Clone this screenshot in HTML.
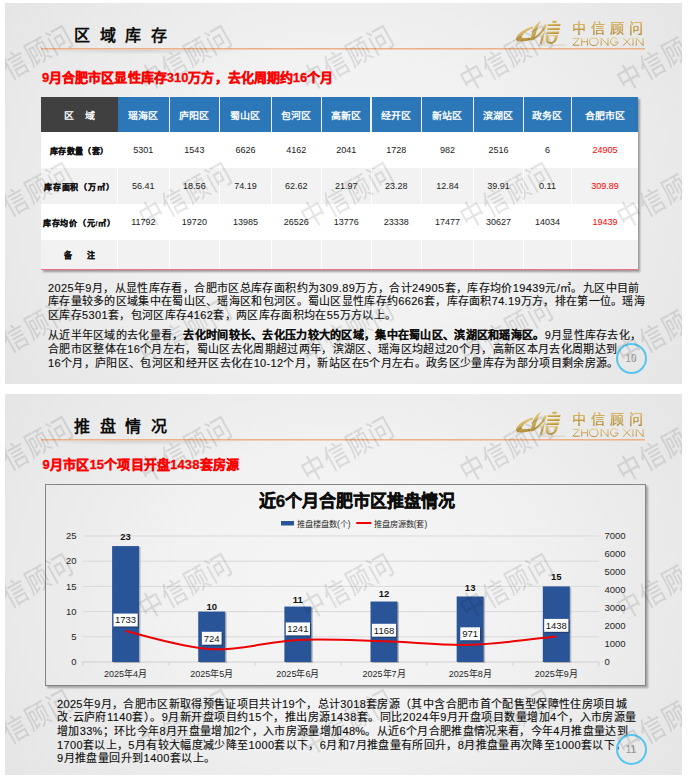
<!DOCTYPE html>
<html lang="zh-CN"><head><meta charset="utf-8"><style>
*{margin:0;padding:0;box-sizing:border-box}
html,body{width:689px;height:779px;background:#fff;overflow:hidden}
body{position:relative;font-family:"Liberation Sans",sans-serif;color:#000}
.slide{position:absolute;left:5px;width:677px;height:381px;overflow:hidden;
 background:radial-gradient(ellipse 338px 269px at 50% 50%, #f5f5f5 0%, #f2f2f2 50%, #eeeeee 71%, #e9e9e9 100%, #e5e5e5 123%)}
.a{position:absolute;white-space:nowrap}
.title{font-size:16px;font-weight:bold;letter-spacing:9.5px;line-height:16px;color:#0d0d0d}
.hline{position:absolute;left:36px;top:45px;width:604px;height:2px;background:linear-gradient(to bottom,rgba(236,172,132,0.95) 0 50%,rgba(236,172,132,0.5) 50% 100%)}
.hshadow{position:absolute;left:36px;top:46.5px;width:220px;height:6px;background:radial-gradient(ellipse 110px 4.5px at 100px 0px, rgba(0,0,0,0.11), rgba(0,0,0,0) 100%)}
.sub{font-size:13px;font-weight:bold;color:#ff0000;line-height:13px;-webkit-text-stroke:0.3px #ff0000}
.wm{position:absolute;white-space:nowrap;font-size:24px;line-height:28px;letter-spacing:1.3px;color:#000;-webkit-text-stroke:0.15px #000;opacity:0.1;transform:translate(-50%,-50%) rotate(-29deg) scaleY(1.2)}
.cell{position:absolute;display:flex;align-items:center;justify-content:center;white-space:nowrap}
.hd{background:#2b77b7;color:#fff;font-weight:bold;font-size:10px}
.body1{font-size:9px}
.para{font-size:11px;line-height:12px;color:#0d0d0d;-webkit-text-stroke:0.12px #0d0d0d}
.goldtxt{background:linear-gradient(to bottom,#e2c77e 0%,#c9a24a 50%,#a07a2c 100%);-webkit-background-clip:text;background-clip:text;color:transparent}
.pn{position:absolute;width:31px;height:31px;border-radius:50%;border:2px solid #55c6ef;display:flex;align-items:center;justify-content:center;font-size:10px;color:#969696;padding-top:1px}
</style></head>
<body>
<div class="slide" style="top:3px">

<div class="a title" style="left:69px;top:25px">区域库存</div>
<div class="hshadow"></div>
<div class="hline"></div>
<svg class="a" style="left:503px;top:11px" width="64" height="36" viewBox="508 14 64 36">
 <defs><linearGradient id="golda" x1="0" y1="0" x2="0.3" y2="1"><stop offset="0" stop-color="#f0dea4"/><stop offset="0.5" stop-color="#d5b462"/><stop offset="1" stop-color="#b6913d"/></linearGradient></defs>
 <g fill="url(#golda)">
 <path d="M533 26.3 C526 28 519 32.5 516.3 37.3 C515.2 40 517.5 41.8 521.5 41.6 C525 41.4 528.5 40.6 531.8 39.8 L531.3 37.4 C528 37.9 525 38.2 523.3 38.1 C521.6 38 521.4 37 522.1 36 C524.3 32.8 528 30 533 28.6 Z"/>
 <path d="M540.9 20.8 C536.5 23 533.5 28 532 33 L530.4 40.3 C532.3 40.6 534 40 534.8 38.8 C535.8 33 537.5 27 540.9 20.8 Z"/>
 <path d="M546.5 24.2 C546.8 28.5 542 34 534.2 39.2 L533.6 38 C539 34 543 29 544.2 24.8 C544.8 24.2 545.8 24 546.5 24.2 Z"/>
 <path d="M542.6 33.2 L545 32.6 L541.8 43.6 L539.6 43.8 Z"/>
 <ellipse cx="554.4" cy="21.6" rx="2.5" ry="1.2"/>
 <path d="M548 23.7 L561 23.7 L560 26 L547.5 26 Z"/>
 <path d="M547.5 27.6 L560 27.6 L559.5 29.9 L547 29.9 Z"/>
 <path d="M547 31.3 L559.5 31.3 L558.5 34 L546.5 34 Z"/>
 <path fill-rule="evenodd" d="M545.5 35 L558 35 C557.5 39 556 43.5 551 43.8 C547 44 545.5 42 545.5 39 Z M548.2 36.3 L554.8 36.3 C554.5 39.5 553.5 42 551 42.2 C549 42.3 548.2 41 548.2 39 Z"/>
 </g>
 <rect x="538.5" y="44.6" width="27" height="1" fill="#b8a070" opacity="0.35"/>
</svg>
<div class="a goldtxt" style="left:567px;top:16.5px;font-size:14px;line-height:16px;letter-spacing:5.1px;-webkit-text-stroke:0.2px #c9a24a">中信顾问</div>
<svg class="a" style="left:563px;top:32px" width="84" height="16" viewBox="568 35 84 16">
 <defs><linearGradient id="gold2a" gradientUnits="userSpaceOnUse" x1="0" y1="37.5" x2="0" y2="46"><stop offset="0" stop-color="#e0c47c"/><stop offset="0.55" stop-color="#c9a350"/><stop offset="1" stop-color="#a98432"/></linearGradient></defs>
 <g fill="none" stroke="url(#gold2a)" stroke-width="0.95" stroke-linejoin="miter">
 <path d="M572.8 38.3 H579.2 L572.9 45.2 H579.5"/>
 <path d="M581.7 37.9 V45.6 M587.5 37.9 V45.6 M581.7 41.7 H587.5"/>
 <ellipse cx="593.8" cy="41.75" rx="4.3" ry="3.8"/>
 <path d="M601.2 45.6 V37.9 L608 45.6 V37.9"/>
 <path d="M617.6 39.3 A3.9 3.85 0 1 0 618.2 42 H614.8"/>
 <path d="M623.1 37.9 L630.8 45.6 M630.8 37.9 L623.1 45.6"/>
 <path d="M633 37.9 V45.6"/>
 <path d="M636.3 45.6 V37.9 L643.1 45.6 V37.9"/>
 </g>
</svg>

<div class="a sub" style="left:37px;top:68px;letter-spacing:0.04px">9月合肥市区显性库存310万方，去化周期约16个月</div>
<div class="a" style="left:36px;top:94px;width:597px;height:173px;box-shadow:2px 2px 2px rgba(0,0,0,0.35)"></div>
<div class="cell" style="left:36px;top:94px;width:76.5px;height:35px;background:#404040;color:#fff;font-weight:bold;font-size:10px"><span style="display:inline-block;transform:translateY(0.5px) scaleY(0.87)">区&nbsp;&nbsp;&nbsp;&nbsp;域</span></div>
<div class="cell hd" style="left:113.0px;top:94px;width:50.69999999999999px;height:35px"><span style="display:inline-block;transform:translateY(0.5px) scaleY(0.87)">瑶海区</span></div>
<div class="cell hd" style="left:164.7px;top:94px;width:49.400000000000006px;height:35px"><span style="display:inline-block;transform:translateY(0.5px) scaleY(0.87)">庐阳区</span></div>
<div class="cell hd" style="left:215.1px;top:94px;width:50.70000000000002px;height:35px"><span style="display:inline-block;transform:translateY(0.5px) scaleY(0.87)">蜀山区</span></div>
<div class="cell hd" style="left:266.8px;top:94px;width:49.0px;height:35px"><span style="display:inline-block;transform:translateY(0.5px) scaleY(0.87)">包河区</span></div>
<div class="cell hd" style="left:316.8px;top:94px;width:48.69999999999999px;height:35px"><span style="display:inline-block;transform:translateY(0.5px) scaleY(0.87)">高新区</span></div>
<div class="cell hd" style="left:366.5px;top:94px;width:49.30000000000001px;height:35px"><span style="display:inline-block;transform:translateY(0.5px) scaleY(0.87)">经开区</span></div>
<div class="cell hd" style="left:416.8px;top:94px;width:51.30000000000001px;height:35px"><span style="display:inline-block;transform:translateY(0.5px) scaleY(0.87)">新站区</span></div>
<div class="cell hd" style="left:469.1px;top:94px;width:48.60000000000002px;height:35px"><span style="display:inline-block;transform:translateY(0.5px) scaleY(0.87)">滨湖区</span></div>
<div class="cell hd" style="left:518.7px;top:94px;width:47.59999999999991px;height:35px"><span style="display:inline-block;transform:translateY(0.5px) scaleY(0.87)">政务区</span></div>
<div class="cell hd" style="left:567.3px;top:94px;width:65.70000000000005px;height:35px"><span style="display:inline-block;transform:translateY(0.5px) scaleY(0.87)">合肥市区</span></div>
<div class="a" style="left:36px;top:129px;width:597px;height:36px;background:#ffffff"></div>
<div class="cell" style="left:36px;top:129px;width:76.5px;height:36px;font-size:8px;font-weight:bold;color:#111;-webkit-text-stroke:0.2px #111;letter-spacing:0.4px">库存数量（套）</div>
<div class="cell" style="left:112.5px;top:129px;width:51.69999999999999px;height:36px;font-size:9px;color:#1a1a1a">5301</div>
<div class="cell" style="left:164.2px;top:129px;width:50.400000000000006px;height:36px;font-size:9px;color:#1a1a1a">1543</div>
<div class="cell" style="left:214.6px;top:129px;width:51.70000000000002px;height:36px;font-size:9px;color:#1a1a1a">6626</div>
<div class="cell" style="left:266.3px;top:129px;width:50.0px;height:36px;font-size:9px;color:#1a1a1a">4162</div>
<div class="cell" style="left:316.3px;top:129px;width:49.69999999999999px;height:36px;font-size:9px;color:#1a1a1a">2041</div>
<div class="cell" style="left:366px;top:129px;width:50.30000000000001px;height:36px;font-size:9px;color:#1a1a1a">1728</div>
<div class="cell" style="left:416.3px;top:129px;width:52.30000000000001px;height:36px;font-size:9px;color:#1a1a1a">982</div>
<div class="cell" style="left:468.6px;top:129px;width:49.60000000000002px;height:36px;font-size:9px;color:#1a1a1a">2516</div>
<div class="cell" style="left:518.2px;top:129px;width:48.59999999999991px;height:36px;font-size:9px;color:#1a1a1a">6</div>
<div class="cell" style="left:566.8px;top:129px;width:66.20000000000005px;height:36px;font-size:9px;color:#ff0000">24905</div>
<div class="a" style="left:36px;top:165px;width:597px;height:36px;background:#f2f2f2"></div>
<div class="cell" style="left:36px;top:165px;width:76.5px;height:36px;font-size:8px;font-weight:bold;color:#111;-webkit-text-stroke:0.2px #111;letter-spacing:0.8px">库存面积（万㎡）</div>
<div class="cell" style="left:112.5px;top:165px;width:51.69999999999999px;height:36px;font-size:9px;color:#1a1a1a">56.41</div>
<div class="cell" style="left:164.2px;top:165px;width:50.400000000000006px;height:36px;font-size:9px;color:#1a1a1a">18.56</div>
<div class="cell" style="left:214.6px;top:165px;width:51.70000000000002px;height:36px;font-size:9px;color:#1a1a1a">74.19</div>
<div class="cell" style="left:266.3px;top:165px;width:50.0px;height:36px;font-size:9px;color:#1a1a1a">62.62</div>
<div class="cell" style="left:316.3px;top:165px;width:49.69999999999999px;height:36px;font-size:9px;color:#1a1a1a">21.97</div>
<div class="cell" style="left:366px;top:165px;width:50.30000000000001px;height:36px;font-size:9px;color:#1a1a1a">23.28</div>
<div class="cell" style="left:416.3px;top:165px;width:52.30000000000001px;height:36px;font-size:9px;color:#1a1a1a">12.84</div>
<div class="cell" style="left:468.6px;top:165px;width:49.60000000000002px;height:36px;font-size:9px;color:#1a1a1a">39.91</div>
<div class="cell" style="left:518.2px;top:165px;width:48.59999999999991px;height:36px;font-size:9px;color:#1a1a1a">0.11</div>
<div class="cell" style="left:566.8px;top:165px;width:66.20000000000005px;height:36px;font-size:9px;color:#ff0000">309.89</div>
<div class="a" style="left:36px;top:201px;width:597px;height:36px;background:#ffffff"></div>
<div class="cell" style="left:36px;top:201px;width:76.5px;height:36px;font-size:8px;font-weight:bold;color:#111;-webkit-text-stroke:0.2px #111;letter-spacing:0.75px">库存均价（元/㎡）</div>
<div class="cell" style="left:112.5px;top:201px;width:51.69999999999999px;height:36px;font-size:9px;color:#1a1a1a">11792</div>
<div class="cell" style="left:164.2px;top:201px;width:50.400000000000006px;height:36px;font-size:9px;color:#1a1a1a">19720</div>
<div class="cell" style="left:214.6px;top:201px;width:51.70000000000002px;height:36px;font-size:9px;color:#1a1a1a">13985</div>
<div class="cell" style="left:266.3px;top:201px;width:50.0px;height:36px;font-size:9px;color:#1a1a1a">26526</div>
<div class="cell" style="left:316.3px;top:201px;width:49.69999999999999px;height:36px;font-size:9px;color:#1a1a1a">13776</div>
<div class="cell" style="left:366px;top:201px;width:50.30000000000001px;height:36px;font-size:9px;color:#1a1a1a">23338</div>
<div class="cell" style="left:416.3px;top:201px;width:52.30000000000001px;height:36px;font-size:9px;color:#1a1a1a">17477</div>
<div class="cell" style="left:468.6px;top:201px;width:49.60000000000002px;height:36px;font-size:9px;color:#1a1a1a">30627</div>
<div class="cell" style="left:518.2px;top:201px;width:48.59999999999991px;height:36px;font-size:9px;color:#1a1a1a">14034</div>
<div class="cell" style="left:566.8px;top:201px;width:66.20000000000005px;height:36px;font-size:9px;color:#ff0000">19439</div>
<div class="a" style="left:36px;top:237px;width:597px;height:29px;background:#f2f2f2"></div>
<div class="cell" style="left:36px;top:237px;width:76.5px;height:29px;font-size:8px;font-weight:bold;color:#111;-webkit-text-stroke:0.2px #111;letter-spacing:0px">备<span style="display:inline-block;width:15.5px"></span>注</div>
<div class="cell" style="left:112.5px;top:237px;width:51.69999999999999px;height:29px;font-size:9px;color:#1a1a1a"></div>
<div class="cell" style="left:164.2px;top:237px;width:50.400000000000006px;height:29px;font-size:9px;color:#1a1a1a"></div>
<div class="cell" style="left:214.6px;top:237px;width:51.70000000000002px;height:29px;font-size:9px;color:#1a1a1a"></div>
<div class="cell" style="left:266.3px;top:237px;width:50.0px;height:29px;font-size:9px;color:#1a1a1a"></div>
<div class="cell" style="left:316.3px;top:237px;width:49.69999999999999px;height:29px;font-size:9px;color:#1a1a1a"></div>
<div class="cell" style="left:366px;top:237px;width:50.30000000000001px;height:29px;font-size:9px;color:#1a1a1a"></div>
<div class="cell" style="left:416.3px;top:237px;width:52.30000000000001px;height:29px;font-size:9px;color:#1a1a1a"></div>
<div class="cell" style="left:468.6px;top:237px;width:49.60000000000002px;height:29px;font-size:9px;color:#1a1a1a"></div>
<div class="cell" style="left:518.2px;top:237px;width:48.59999999999991px;height:29px;font-size:9px;color:#1a1a1a"></div>
<div class="cell" style="left:566.8px;top:237px;width:66.20000000000005px;height:29px;font-size:9px;color:#ff0000"></div>
<div class="a" style="left:112.0px;top:129px;width:1px;height:137px;background:#fff"></div>
<div class="a" style="left:163.7px;top:129px;width:1px;height:137px;background:#fff"></div>
<div class="a" style="left:214.1px;top:129px;width:1px;height:137px;background:#fff"></div>
<div class="a" style="left:265.8px;top:129px;width:1px;height:137px;background:#fff"></div>
<div class="a" style="left:315.8px;top:129px;width:1px;height:137px;background:#fff"></div>
<div class="a" style="left:365.5px;top:129px;width:1px;height:137px;background:#fff"></div>
<div class="a" style="left:415.8px;top:129px;width:1px;height:137px;background:#fff"></div>
<div class="a" style="left:468.1px;top:129px;width:1px;height:137px;background:#fff"></div>
<div class="a" style="left:517.7px;top:129px;width:1px;height:137px;background:#fff"></div>
<div class="a" style="left:566.3px;top:129px;width:1px;height:137px;background:#fff"></div>
<div class="a" style="left:36px;top:266px;width:597px;height:1px;background:#ee6f86"></div>
<div class="a para" style="left:43px;top:279px;letter-spacing:0.375px">2025年9月，从显性库存看，合肥市区总库存面积约为309.89万方，合计24905套，库存均价19439元/㎡。九区中目前</div>
<div class="a para" style="left:43px;top:292px;letter-spacing:0.300px">库存量较多的区域集中在蜀山区、瑶海区和包河区。蜀山区显性库存约6626套，库存面积74.19万方，排在第一位。瑶海</div>
<div class="a para" style="left:43px;top:306px;letter-spacing:0.350px">区库存5301套，包河区库存4162套，两区库存面积均在55万方以上。</div>
<div class="a para" style="left:43px;top:326px;letter-spacing:0.287px">从近半年区域的去化量看，<b>去化时间较长、去化压力较大的区域，集中在蜀山区、滨湖区和瑶海区。</b>9月显性库存去化，</div>
<div class="a para" style="left:43px;top:340px;letter-spacing:0.324px">合肥市区整体在16个月左右，蜀山区去化周期超过两年，滨湖区、瑶海区均超过20个月，高新区本月去化周期达到</div>
<div class="a para" style="left:43px;top:354px;letter-spacing:0.338px">16个月，庐阳区、包河区和经开区去化在10-12个月，新站区在5个月左右。政务区少量库存为部分项目剩余房源。</div>
<div class="pn" style="left:610.5px;top:339.5px">10</div>
<div class="wm" style="left:22px;top:56px">中信顾问</div>
<div class="wm" style="left:181px;top:56px">中信顾问</div>
<div class="wm" style="left:343px;top:56px">中信顾问</div>
<div class="wm" style="left:502px;top:56px">中信顾问</div>
<div class="wm" style="left:659px;top:56px">中信顾问</div>
<div class="wm" style="left:22px;top:192.5px">中信顾问</div>
<div class="wm" style="left:181px;top:192.5px">中信顾问</div>
<div class="wm" style="left:343px;top:192.5px">中信顾问</div>
<div class="wm" style="left:502px;top:192.5px">中信顾问</div>
<div class="wm" style="left:659px;top:192.5px">中信顾问</div>
<div class="wm" style="left:22px;top:328.5px">中信顾问</div>
<div class="wm" style="left:181px;top:328.5px">中信顾问</div>
<div class="wm" style="left:343px;top:328.5px">中信顾问</div>
<div class="wm" style="left:502px;top:328.5px">中信顾问</div>
<div class="wm" style="left:659px;top:328.5px">中信顾问</div>
</div>
<div class="slide" style="top:394px">

<div class="a title" style="left:69px;top:25px">推盘情况</div>
<div class="hshadow"></div>
<div class="hline"></div>
<svg class="a" style="left:503px;top:11px" width="64" height="36" viewBox="508 14 64 36">
 <defs><linearGradient id="goldb" x1="0" y1="0" x2="0.3" y2="1"><stop offset="0" stop-color="#f0dea4"/><stop offset="0.5" stop-color="#d5b462"/><stop offset="1" stop-color="#b6913d"/></linearGradient></defs>
 <g fill="url(#goldb)">
 <path d="M533 26.3 C526 28 519 32.5 516.3 37.3 C515.2 40 517.5 41.8 521.5 41.6 C525 41.4 528.5 40.6 531.8 39.8 L531.3 37.4 C528 37.9 525 38.2 523.3 38.1 C521.6 38 521.4 37 522.1 36 C524.3 32.8 528 30 533 28.6 Z"/>
 <path d="M540.9 20.8 C536.5 23 533.5 28 532 33 L530.4 40.3 C532.3 40.6 534 40 534.8 38.8 C535.8 33 537.5 27 540.9 20.8 Z"/>
 <path d="M546.5 24.2 C546.8 28.5 542 34 534.2 39.2 L533.6 38 C539 34 543 29 544.2 24.8 C544.8 24.2 545.8 24 546.5 24.2 Z"/>
 <path d="M542.6 33.2 L545 32.6 L541.8 43.6 L539.6 43.8 Z"/>
 <ellipse cx="554.4" cy="21.6" rx="2.5" ry="1.2"/>
 <path d="M548 23.7 L561 23.7 L560 26 L547.5 26 Z"/>
 <path d="M547.5 27.6 L560 27.6 L559.5 29.9 L547 29.9 Z"/>
 <path d="M547 31.3 L559.5 31.3 L558.5 34 L546.5 34 Z"/>
 <path fill-rule="evenodd" d="M545.5 35 L558 35 C557.5 39 556 43.5 551 43.8 C547 44 545.5 42 545.5 39 Z M548.2 36.3 L554.8 36.3 C554.5 39.5 553.5 42 551 42.2 C549 42.3 548.2 41 548.2 39 Z"/>
 </g>
 <rect x="538.5" y="44.6" width="27" height="1" fill="#b8a070" opacity="0.35"/>
</svg>
<div class="a goldtxt" style="left:567px;top:16.5px;font-size:14px;line-height:16px;letter-spacing:5.1px;-webkit-text-stroke:0.2px #c9a24a">中信顾问</div>
<svg class="a" style="left:563px;top:32px" width="84" height="16" viewBox="568 35 84 16">
 <defs><linearGradient id="gold2b" gradientUnits="userSpaceOnUse" x1="0" y1="37.5" x2="0" y2="46"><stop offset="0" stop-color="#e0c47c"/><stop offset="0.55" stop-color="#c9a350"/><stop offset="1" stop-color="#a98432"/></linearGradient></defs>
 <g fill="none" stroke="url(#gold2b)" stroke-width="0.95" stroke-linejoin="miter">
 <path d="M572.8 38.3 H579.2 L572.9 45.2 H579.5"/>
 <path d="M581.7 37.9 V45.6 M587.5 37.9 V45.6 M581.7 41.7 H587.5"/>
 <ellipse cx="593.8" cy="41.75" rx="4.3" ry="3.8"/>
 <path d="M601.2 45.6 V37.9 L608 45.6 V37.9"/>
 <path d="M617.6 39.3 A3.9 3.85 0 1 0 618.2 42 H614.8"/>
 <path d="M623.1 37.9 L630.8 45.6 M630.8 37.9 L623.1 45.6"/>
 <path d="M633 37.9 V45.6"/>
 <path d="M636.3 45.6 V37.9 L643.1 45.6 V37.9"/>
 </g>
</svg>

<div class="a sub" style="left:37.5px;top:64px;letter-spacing:0.17px">9月市区15个项目开盘1438套房源</div>
<div class="a" style="left:40px;top:90px;width:601px;height:202px;border:1px solid #858585;box-shadow:2px 2px 2px rgba(0,0,0,0.3)"></div>
<svg class="a" style="left:-5px;top:-394px" width="689" height="779" viewBox="0 0 689 779"><defs><filter id="blur1" x="-20%" y="-20%" width="140%" height="140%"><feGaussianBlur stdDeviation="0.6"/></filter></defs>
<line x1="83" y1="662.0" x2="599" y2="662.0" stroke="#d0d0d0" stroke-width="1"/>
<text x="76.5" y="665.2" text-anchor="end" font-size="9.5" fill="#262626">0</text>
<line x1="83" y1="636.8" x2="599" y2="636.8" stroke="#d9d9d9" stroke-width="1"/>
<text x="76.5" y="640.0" text-anchor="end" font-size="9.5" fill="#262626">5</text>
<line x1="83" y1="611.6" x2="599" y2="611.6" stroke="#d9d9d9" stroke-width="1"/>
<text x="76.5" y="614.8000000000001" text-anchor="end" font-size="9.5" fill="#262626">10</text>
<line x1="83" y1="586.4" x2="599" y2="586.4" stroke="#d9d9d9" stroke-width="1"/>
<text x="76.5" y="589.6" text-anchor="end" font-size="9.5" fill="#262626">15</text>
<line x1="83" y1="561.2" x2="599" y2="561.2" stroke="#d9d9d9" stroke-width="1"/>
<text x="76.5" y="564.4000000000001" text-anchor="end" font-size="9.5" fill="#262626">20</text>
<line x1="83" y1="536.0" x2="599" y2="536.0" stroke="#d9d9d9" stroke-width="1"/>
<text x="76.5" y="539.2" text-anchor="end" font-size="9.5" fill="#262626">25</text>
<text x="604.5" y="664.9" font-size="9.5" fill="#262626">0</text>
<text x="604.5" y="646.9" font-size="9.5" fill="#262626">1000</text>
<text x="604.5" y="628.9" font-size="9.5" fill="#262626">2000</text>
<text x="604.5" y="610.9" font-size="9.5" fill="#262626">3000</text>
<text x="604.5" y="592.9" font-size="9.5" fill="#262626">4000</text>
<text x="604.5" y="574.9" font-size="9.5" fill="#262626">5000</text>
<text x="604.5" y="556.9" font-size="9.5" fill="#262626">6000</text>
<text x="604.5" y="538.9" font-size="9.5" fill="#262626">7000</text>
<line x1="83" y1="662" x2="83" y2="666" stroke="#d0d0d0" stroke-width="1"/>
<line x1="169" y1="662" x2="169" y2="666" stroke="#d0d0d0" stroke-width="1"/>
<line x1="255" y1="662" x2="255" y2="666" stroke="#d0d0d0" stroke-width="1"/>
<line x1="341" y1="662" x2="341" y2="666" stroke="#d0d0d0" stroke-width="1"/>
<line x1="427" y1="662" x2="427" y2="666" stroke="#d0d0d0" stroke-width="1"/>
<line x1="513" y1="662" x2="513" y2="666" stroke="#d0d0d0" stroke-width="1"/>
<line x1="599" y1="662" x2="599" y2="666" stroke="#d0d0d0" stroke-width="1"/>
<rect x="113.6" y="547.08" width="27" height="115.91999999999996" fill="rgba(0,0,0,0.22)"/>
<rect x="112.1" y="546.08" width="27" height="115.91999999999996" fill="#2a5498"/>
<text x="125.6" y="539.6" text-anchor="middle" font-size="9.5" font-weight="bold" fill="#111">23</text>
<text x="125.6" y="677" text-anchor="middle" font-size="9" fill="#262626">2025年4月</text>
<rect x="199.74" y="612.6" width="27" height="50.39999999999998" fill="rgba(0,0,0,0.22)"/>
<rect x="198.24" y="611.6" width="27" height="50.39999999999998" fill="#2a5498"/>
<text x="211.74" y="609.6" text-anchor="middle" font-size="9.5" font-weight="bold" fill="#111">10</text>
<text x="211.74" y="677" text-anchor="middle" font-size="9" fill="#262626">2025年5月</text>
<rect x="285.88" y="607.56" width="27" height="55.440000000000055" fill="rgba(0,0,0,0.22)"/>
<rect x="284.38" y="606.56" width="27" height="55.440000000000055" fill="#2a5498"/>
<text x="297.88" y="603.1" text-anchor="middle" font-size="9.5" font-weight="bold" fill="#111">11</text>
<text x="297.88" y="677" text-anchor="middle" font-size="9" fill="#262626">2025年6月</text>
<rect x="372.02" y="602.52" width="27" height="60.48000000000002" fill="rgba(0,0,0,0.22)"/>
<rect x="370.52" y="601.52" width="27" height="60.48000000000002" fill="#2a5498"/>
<text x="384.02" y="597.2" text-anchor="middle" font-size="9.5" font-weight="bold" fill="#111">12</text>
<text x="384.02" y="677" text-anchor="middle" font-size="9" fill="#262626">2025年7月</text>
<rect x="458.15999999999997" y="597.48" width="27" height="65.51999999999998" fill="rgba(0,0,0,0.22)"/>
<rect x="456.65999999999997" y="596.48" width="27" height="65.51999999999998" fill="#2a5498"/>
<text x="470.15999999999997" y="590.5" text-anchor="middle" font-size="9.5" font-weight="bold" fill="#111">13</text>
<text x="470.15999999999997" y="677" text-anchor="middle" font-size="9" fill="#262626">2025年8月</text>
<rect x="544.3" y="587.4" width="27" height="75.60000000000002" fill="rgba(0,0,0,0.22)"/>
<rect x="542.8" y="586.4" width="27" height="75.60000000000002" fill="#2a5498"/>
<text x="556.3" y="579.9" text-anchor="middle" font-size="9.5" font-weight="bold" fill="#111">15</text>
<text x="556.3" y="677" text-anchor="middle" font-size="9" fill="#262626">2025年9月</text>
<path d="M125.6,631.0317285714285 C140.0,634.1 183.0,647.8 211.7,649.2 C240.5,650.7 269.2,641.2 297.9,639.9 C326.6,638.6 355.3,640.4 384.0,641.2 C412.7,642.0 441.4,645.6 470.2,644.8 C498.9,644.0 541.9,637.8 556.3,636.4" fill="none" stroke="#ee0000" stroke-width="2"/>
<rect x="114.7" y="614.7817285714285" width="24.2" height="12.9" fill="rgba(0,0,0,0.28)" filter="url(#blur1)"/>
<rect x="113.5" y="613.5817285714285" width="24.2" height="12.9" fill="#fff"/>
<text x="125.6" y="623.4317285714285" text-anchor="middle" font-size="9.5" fill="#111">1733</text>
<rect x="203.09" y="632.9869714285713" width="19.7" height="12.9" fill="rgba(0,0,0,0.28)" filter="url(#blur1)"/>
<rect x="201.89000000000001" y="631.7869714285713" width="19.7" height="12.9" fill="#fff"/>
<text x="211.74" y="641.6369714285713" text-anchor="middle" font-size="9.5" fill="#111">724</text>
<rect x="286.97999999999996" y="623.6588142857142" width="24.2" height="12.9" fill="rgba(0,0,0,0.28)" filter="url(#blur1)"/>
<rect x="285.78" y="622.4588142857142" width="24.2" height="12.9" fill="#fff"/>
<text x="297.88" y="632.3088142857142" text-anchor="middle" font-size="9.5" fill="#111">1241</text>
<rect x="373.11999999999995" y="624.9759428571429" width="24.2" height="12.9" fill="rgba(0,0,0,0.28)" filter="url(#blur1)"/>
<rect x="371.91999999999996" y="623.7759428571428" width="24.2" height="12.9" fill="#fff"/>
<text x="384.02" y="633.6259428571428" text-anchor="middle" font-size="9.5" fill="#111">1168</text>
<rect x="461.50999999999993" y="628.5303857142857" width="19.7" height="12.9" fill="rgba(0,0,0,0.28)" filter="url(#blur1)"/>
<rect x="460.30999999999995" y="627.3303857142856" width="19.7" height="12.9" fill="#fff"/>
<text x="470.15999999999997" y="637.1803857142856" text-anchor="middle" font-size="9.5" fill="#111">971</text>
<rect x="545.4" y="620.1043714285714" width="24.2" height="12.9" fill="rgba(0,0,0,0.28)" filter="url(#blur1)"/>
<rect x="544.1999999999999" y="618.9043714285714" width="24.2" height="12.9" fill="#fff"/>
<text x="556.3" y="628.7543714285714" text-anchor="middle" font-size="9.5" fill="#111">1438</text>
<text x="357" y="507" text-anchor="middle" font-size="17" font-weight="bold" fill="#0d0d0d" stroke="#0d0d0d" stroke-width="0.4">近6个月合肥市区推盘情况</text>
<rect x="281" y="521" width="13" height="4.5" fill="#2a5498"/>
<text x="297" y="526.5" font-size="8.2" fill="#262626">推盘楼盘数(个)</text>
<line x1="356.3" y1="523" x2="371.4" y2="523" stroke="#ee0000" stroke-width="2"/>
<text x="373.7" y="526.5" font-size="8.2" fill="#262626">推盘房源数(套)</text>
</svg>
<div class="a para" style="left:52px;top:304px;letter-spacing:0.339px">2025年9月，合肥市区新取得预售证项目共计19个，总计3018套房源（其中含合肥市首个配售型保障性住房项目城</div>
<div class="a para" style="left:52px;top:317px;letter-spacing:0.457px">改·云庐府1140套）。9月新开盘项目约15个，推出房源1438套。同比2024年9月开盘项目数量增加4个，入市房源量</div>
<div class="a para" style="left:52px;top:331px;letter-spacing:0.340px">增加33%；环比今年8月开盘量增加2个，入市房源量增加48%。从近6个月合肥推盘情况来看，今年4月推盘量达到</div>
<div class="a para" style="left:52px;top:345px;letter-spacing:0.362px">1700套以上，5月有较大幅度减少降至1000套以下，6月和7月推盘量有所回升，8月推盘量再次降至1000套以下，</div>
<div class="a para" style="left:52px;top:358px;letter-spacing:0.433px">9月推盘量回升到1400套以上。</div>
<div class="pn" style="left:610.5px;top:339.5px">11</div>
<div class="wm" style="left:22px;top:56px">中信顾问</div>
<div class="wm" style="left:181px;top:56px">中信顾问</div>
<div class="wm" style="left:343px;top:56px">中信顾问</div>
<div class="wm" style="left:502px;top:56px">中信顾问</div>
<div class="wm" style="left:659px;top:56px">中信顾问</div>
<div class="wm" style="left:22px;top:192.5px">中信顾问</div>
<div class="wm" style="left:181px;top:192.5px">中信顾问</div>
<div class="wm" style="left:343px;top:192.5px">中信顾问</div>
<div class="wm" style="left:502px;top:192.5px">中信顾问</div>
<div class="wm" style="left:659px;top:192.5px">中信顾问</div>
<div class="wm" style="left:22px;top:328.5px">中信顾问</div>
<div class="wm" style="left:181px;top:328.5px">中信顾问</div>
<div class="wm" style="left:343px;top:328.5px">中信顾问</div>
<div class="wm" style="left:502px;top:328.5px">中信顾问</div>
<div class="wm" style="left:659px;top:328.5px">中信顾问</div>
</div>
</body></html>
